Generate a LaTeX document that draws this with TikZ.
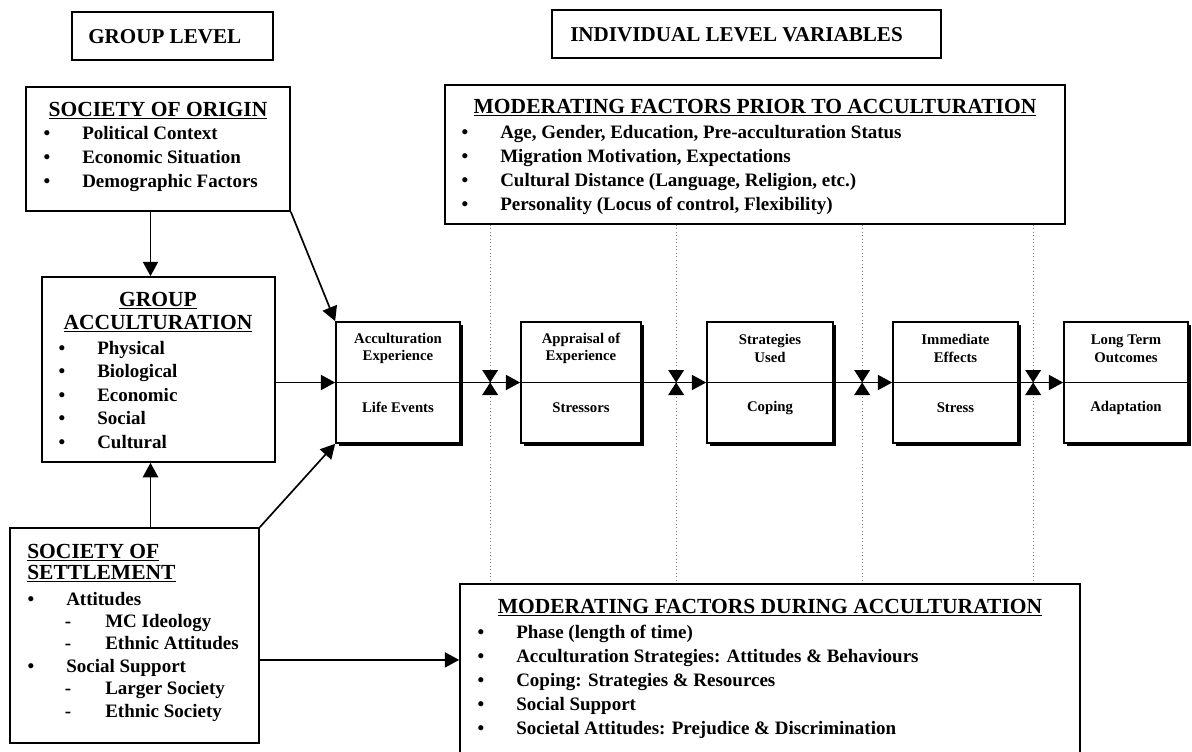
\documentclass[tikz,border=0pt]{standalone}
\usepackage{fontspec}
\setmainfont{Liberation Serif}
\usetikzlibrary{arrows.meta,fit,shadows}

\tikzset{
  box/.style={draw, line width=1.2pt, inner sep=0pt},
  sbox/.style={box, fill=white, drop shadow={shadow xshift=2pt, shadow yshift=-2pt, opacity=1, fill=black}},
  hdr/.style={font=\fontsize{15}{18}\selectfont\bfseries, anchor=base west, inner sep=0pt},
  title/.style={font=\fontsize{15.3}{18}\selectfont\bfseries, anchor=base, inner sep=0pt},
  item/.style={font=\fontsize{13.5}{16}\selectfont\bfseries, anchor=base west, inner sep=0pt},
  bul/.style={font=\fontsize{13.5}{16}\selectfont\bfseries, anchor=base, inner sep=0pt},
  small/.style={font=\fontsize{10.5}{12.5}\selectfont\bfseries, align=center, inner sep=0pt},
  arr/.style={line width=1.2pt, -{Triangle[length=0.36cm, width=0.38cm]}},
  guide/.style={dotted, gray, line width=0.5pt}
}

\begin{document}
\begin{tikzpicture}[x=0.025cm, y=-0.025cm]
        \useasboundingbox (0,0) rectangle (1192,751);

        % Headers
        \node[box, fit={(72,12) (273,60)}] (grp) {};
        \node[hdr] (grpt) at (88,43) {GROUP LEVEL};
        \node[box, fit={(552,10) (941,58)}] (ind) {};
        \node[hdr] (indt) at (570,41) {INDIVIDUAL LEVEL VARIABLES};

        % Society of origin
        \node[box, fit={(26,87) (290,211)}] (origin) {};
        \node[title] (origint) at (158,116) {\underline{SOCIETY OF ORIGIN}};
        \foreach \t [count=\i from 0] in {Political Context, Economic Situation, Demographic Factors} {
            \node[bul] (ob\i) at (47,{139+24*\i}) {\textbullet};
            \node[item] (o\i) at (82,{139+24*\i}) {\t};
        }

        % Group acculturation
        \node[box, fit={(42,277) (275,462)}] (gacc) {};
        \node[title] (gacct1) at (158,306) {\underline{GROUP}};
        \node[title] (gacct2) at (158,329) {\underline{ACCULTURATION}};
        \foreach \t [count=\i from 0] in {Physical, Biological, Economic, Social, Cultural} {
            \node[bul] (gb\i) at (62,{354+23.5*\i}) {\textbullet};
            \node[item] (g\i) at (97,{354+23.5*\i}) {\t};
        }

        % Society of settlement
        \node[box, fit={(10,528) (259,743)}] (sett) {};
        \node[item, font=\fontsize{15.3}{18}\selectfont\bfseries] (settt1) at (27,558) {\underline{SOCIETY OF}};
        \node[item, font=\fontsize{15.3}{18}\selectfont\bfseries] (settt2) at (27,579) {\underline{SETTLEMENT}};
        \node[bul] (sb1) at (31,605) {\textbullet};
        \node[item] (s1) at (66,605) {Attitudes};
        \node[bul] (sd1) at (68,627) {-};
        \node[item] (s2) at (105,627) {MC Ideology};
        \node[bul] (sd2) at (68,649) {-};
        \node[item] (s3) at (105,649) {Ethnic Attitudes};
        \node[bul] (sb2) at (31,672) {\textbullet};
        \node[item] (s4) at (66,672) {Social Support};
        \node[bul] (sd3) at (68,694) {-};
        \node[item] (s5) at (105,694) {Larger Society};
        \node[bul] (sd4) at (68,717) {-};
        \node[item] (s6) at (105,717) {Ethnic Society};

        % Moderating factors
        \node[box, fit={(445,85) (1065,224)}] (pre) {};
        \node[title] (pret) at (755,113) {\underline{MODERATING FACTORS PRIOR TO ACCULTURATION}};
        \foreach \t [count=\i from 0] in {{Age, Gender, Education, Pre-acculturation Status}, {Migration Motivation, Expectations}, {Cultural Distance (Language, Religion, etc.)}, {Personality (Locus of control, Flexibility)}} {
            \node[bul] (pb\i) at (465,{138+24*\i}) {\textbullet};
            \node[item] (p\i) at (500,{138+24*\i}) {\t};
        }
        \node[box, fit={(460,584) (1080,760)}] (dur) {};
        \node[title] (durt) at (770,613) {\underline{MODERATING FACTORS DURING ACCULTURATION}};
        \foreach \t [count=\i from 0] in {Phase (length of time), Acculturation Strategies: Attitudes \& Behaviours, Coping: Strategies \& Resources, Social Support, Societal Attitudes: Prejudice \& Discrimination} {
            \node[bul] (db\i) at (481,{638+24*\i}) {\textbullet};
            \node[item] (d\i) at (516,{638+24*\i}) {\t};
        }

        % Individual boxes
        \foreach \n/\l/\r in {acc/336/460, app/521/641, strat/707/833, imm/893/1018, lt/1064/1188}
            \node[sbox, fit={(\l,322) (\r,443)}] (\n) {};

        % Chain
        \foreach \a/\b in {acc/app, app/strat, strat/imm, imm/lt} {
            \coordinate (h) at ([xshift=-0.75cm]\b.west);
            \draw[guide] (h |- pre.south) -- (h |- dur.north);
            \draw[arr] (\a.east) -- (\b.west);
            \fill (h) ++(-8,-12.5) -- ++(16,0) -- ++(-16,25) -- ++(16,0) -- cycle;
        }
        \foreach \n/\u/\d in {acc/Acculturation\\Experience/Life Events, app/Appraisal of\\Experience/Stressors, strat/Strategies\\Used/Coping, imm/Immediate\\Effects/Stress, lt/Long Term\\Outcomes/Adaptation} {
            \draw[line width=1.2pt] (\n.west) -- (\n.east);
            \node[small] (\n u) at ([yshift=0.85cm]\n.center) {\u};
            \node[small] (\n d) at ([yshift=-0.625cm]\n.center) {\d};
        }

        % Group level arrows
        \coordinate (gn) at ([xshift=-0.2cm]gacc.north);
        \coordinate (gs) at ([xshift=-0.2cm]gacc.south);
        \draw[arr] (origin.south -| gn) -- (gn);
        \draw[arr] (sett.north -| gs) -- (gs);
        \draw[arr] (origin.south east) -- (acc.north west);
        \draw[arr] (sett.north east) -- (acc.south west);
        \draw[arr] (gacc.east |- acc.west) -- (acc.west);
        \draw[arr] ([yshift=-0.61cm]sett.east) -- ([yshift=-0.61cm]sett.east -| dur.west);
\end{tikzpicture}
\end{document}
